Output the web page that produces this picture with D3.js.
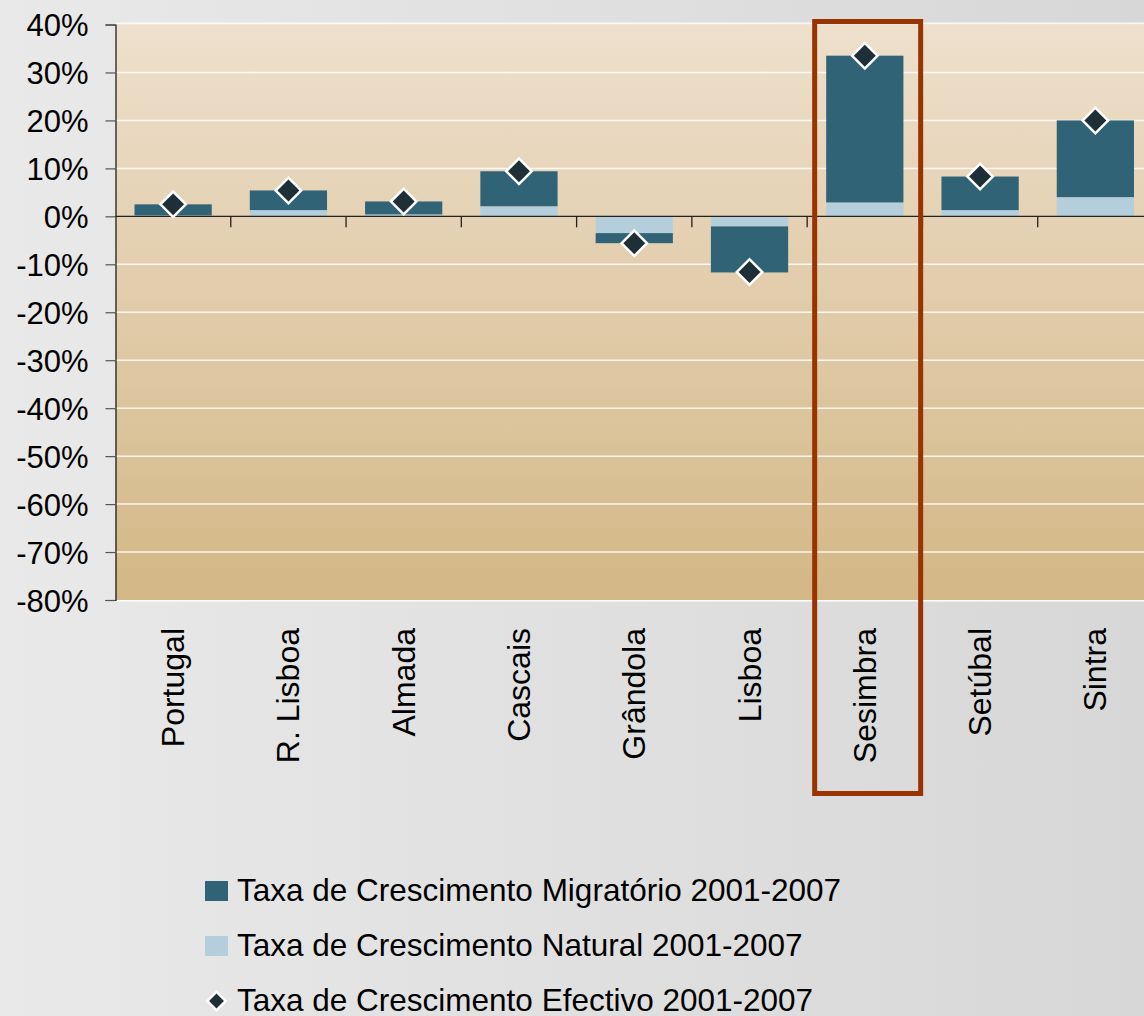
<!DOCTYPE html>
<html>
<head>
<meta charset="utf-8">
<script src="https://cdn.jsdelivr.net/npm/d3@7"></script>
<style>
  html, body { margin: 0; padding: 0; }
  body { width: 1144px; height: 1016px; overflow: hidden; }
  text { font-family: "Liberation Sans", Arial, sans-serif; fill: #000; }
</style>
</head>
<body>
<svg id="chart" width="1144" height="1016"></svg>
<script>
const categories = ["Portugal", "R. Lisboa", "Almada", "Cascais", "Grândola", "Lisboa", "Sesimbra", "Setúbal", "Sintra"];
const natural    = [0.2, 1.3, 0.4, 2.1, -3.5, -2.1, 2.9, 1.3, 4.0];
const migratory  = [2.3, 4.1, 2.7, 7.3, -2.1, -9.6, 30.6, 7.0, 16.0];
const effective  = [2.5, 5.4, 3.1, 9.4, -5.6, -11.6, 33.5, 8.3, 20.0];
const yTicks = [40, 30, 20, 10, 0, -10, -20, -30, -40, -50, -60, -70, -80];
const seriesNames = ["Taxa de Crescimento Migratório 2001-2007", "Taxa de Crescimento Natural 2001-2007", "Taxa de Crescimento Efectivo 2001-2007"];
const highlighted = "Sesimbra";

const colMig = "#306376", colNat = "#b4cfdb", colEff = "#1f2f38";

const svg = d3.select("#chart");
const defs = svg.append("defs");
const bgGrad = defs.append("linearGradient").attr("id", "bg").attr("x1", 0).attr("x2", 1).attr("y1", 0).attr("y2", 0);
bgGrad.append("stop").attr("offset", "0%").attr("stop-color", "#e9e9e9");
bgGrad.append("stop").attr("offset", "100%").attr("stop-color", "#d7d7d7");
const plotGrad = defs.append("linearGradient").attr("id", "plotbg").attr("x1", 0).attr("x2", 0).attr("y1", 0).attr("y2", 1);
plotGrad.append("stop").attr("offset", "0%").attr("stop-color", "#eee0cd");
plotGrad.append("stop").attr("offset", "100%").attr("stop-color", "#d3b785");

svg.append("rect").attr("width", 1144).attr("height", 1016).attr("fill", "url(#bg)");

const pLeft = 115.5, pRight = 1153, pTop = 24.5, pBottom = 600;
const x = d3.scaleBand().domain(categories).range([pLeft, pRight]).paddingInner(0.33).paddingOuter(0.165);
const y = d3.scaleLinear().domain([-80, 40]).range([pBottom, pTop]);

// plot background
svg.append("rect").attr("x", pLeft).attr("y", y(40) - 2).attr("width", pRight - pLeft).attr("height", 2).attr("fill", "#ffffff").attr("opacity", 0.8);
svg.append("rect").attr("x", pLeft).attr("y", y(40)).attr("width", pRight - pLeft).attr("height", y(-80) - y(40)).attr("fill", "url(#plotbg)");
svg.append("rect").attr("x", pLeft).attr("y", y(-80)).attr("width", pRight - pLeft).attr("height", 1.5).attr("fill", "#ffffff");

// gridlines
svg.append("g").selectAll("line").data(yTicks.filter(t => t !== 0 && t !== -80 && t !== 40)).join("line")
  .attr("x1", pLeft).attr("x2", pRight)
  .attr("y1", d => y(d)).attr("y2", d => y(d))
  .attr("stroke", "#ffffff").attr("stroke-width", 1.5).attr("opacity", 0.85);

// stacked bars
const rows = categories.map((c, i) => ({ cat: c, natural: natural[i], migratory: migratory[i] }));
const stack = d3.stack().keys(["natural", "migratory"]).offset(d3.stackOffsetDiverging);
const stacked = stack(rows);
const colors = { natural: colNat, migratory: colMig };
svg.append("g").selectAll("g").data(stacked).join("g")
  .attr("fill", d => colors[d.key])
  .selectAll("rect").data(d => d).join("rect")
  .attr("x", d => x(d.data.cat))
  .attr("width", x.bandwidth())
  .attr("y", d => y(Math.max(d[0], d[1])))
  .attr("height", d => Math.abs(y(d[0]) - y(d[1])));

// y axis
const yAxis = d3.axisLeft(y).tickValues(yTicks).tickFormat(d => d + "%").tickSize(10).tickPadding(17);
const gy = svg.append("g").attr("transform", `translate(${pLeft},0)`).call(yAxis);
gy.select(".domain").attr("stroke", "#111").attr("stroke-width", 1.2);
gy.selectAll(".tick line").attr("stroke", "#555").attr("stroke-width", 1.2);
gy.selectAll(".tick text").attr("font-size", 31).attr("fill", "#000").attr("dy", "0.36em")
  .style("font-family", '"Liberation Sans", Arial, sans-serif');

// zero axis with ticks at band boundaries
svg.append("line").attr("x1", pLeft).attr("x2", pRight).attr("y1", y(0)).attr("y2", y(0)).attr("stroke", "#222").attr("stroke-width", 1.3);
const boundaries = categories.slice(1).map(c => x(c) - x.step() * x.paddingInner() / 2);
svg.append("g").selectAll("line").data(boundaries).join("line")
  .attr("x1", d => d).attr("x2", d => d)
  .attr("y1", y(0)).attr("y2", y(0) + 11)
  .attr("stroke", "#222").attr("stroke-width", 1.3);

// category labels
svg.append("g").selectAll("text").data(categories).join("text")
  .attr("transform", d => `translate(${x(d) + x.bandwidth() / 2 + 11},${pBottom + 28}) rotate(-90)`)
  .attr("text-anchor", "end")
  .attr("font-size", 32)
  .text(d => d);

// effective diamonds
const diamond = d3.symbol().type(d3.symbolSquare).size(18 * 18);
svg.append("g").selectAll("path").data(categories).join("path")
  .attr("d", diamond)
  .attr("transform", (d, i) => `translate(${x(d) + x.bandwidth() / 2},${y(effective[i])}) rotate(45)`)
  .attr("fill", colEff).attr("stroke", "#ffffff").attr("stroke-width", 2.5);

// highlight box
const hx0 = x(highlighted) - x.step() * x.paddingInner() / 2;
svg.append("rect")
  .attr("x", hx0 + 7.5).attr("y", 21.5)
  .attr("width", 106).attr("height", 772)
  .attr("fill", "none").attr("stroke", "#993300").attr("stroke-width", 5);

// legend
const lg = svg.append("g");
const legendBase = [901, 956, 1011];
lg.append("rect").attr("x", 205).attr("y", 881).attr("width", 23).attr("height", 20).attr("fill", colMig);
lg.append("rect").attr("x", 205).attr("y", 936).attr("width", 23).attr("height", 20).attr("fill", colNat);
lg.append("path").attr("d", d3.symbol().type(d3.symbolSquare).size(13 * 13))
  .attr("transform", `translate(216.5,1001) rotate(45)`)
  .attr("fill", colEff).attr("stroke", "#ffffff").attr("stroke-width", 2.5);
lg.selectAll("text").data(seriesNames).join("text")
  .attr("x", 237).attr("y", (d, i) => legendBase[i])
  .attr("font-size", 31.5)
  .text(d => d);
</script>
</body>
</html>
